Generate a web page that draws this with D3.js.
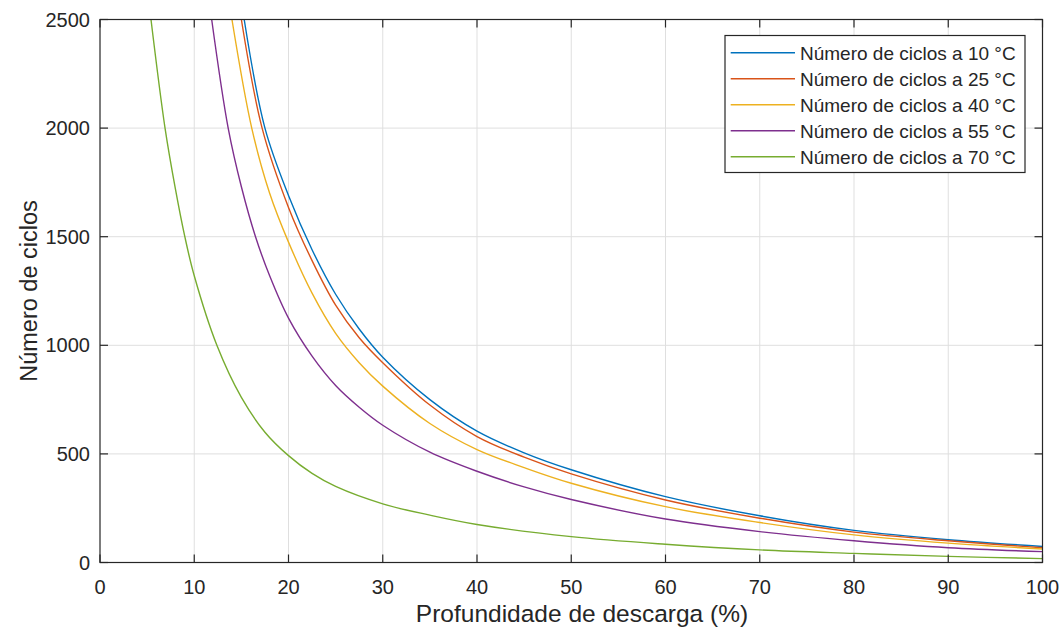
<!DOCTYPE html>
<html>
<head>
<meta charset="utf-8">
<script src="https://cdn.jsdelivr.net/npm/d3@7"></script>
<style>
  html, body { margin: 0; padding: 0; background: #fff; }
  svg { display: block; font-family: "Liberation Sans", Arial, sans-serif; }
</style>
</head>
<body>
<svg id="chart" width="1064" height="630"></svg>
<script>
// [profundidade de descarga (%), número de ciclos]
const ciclos10 = [[15.3, 2500], [17.5, 2000], [20, 1690], [22.5, 1440], [25, 1235], [27.5, 1075], [30, 945],
  [35, 750], [40, 605], [45, 505], [50, 427], [60, 303], [70, 215], [80, 148], [90, 105], [100, 74]];
const ciclos25 = [[15.0, 2500], [17.2, 2000], [20, 1635], [22.5, 1390], [25, 1185], [27.5, 1035], [30, 920],
  [35, 725], [40, 580], [45, 485], [50, 408], [60, 288], [70, 204], [80, 140], [90, 100], [100, 68]];
const ciclos40 = [[14.0, 2500], [16.1, 2000], [18, 1700], [20, 1475], [22.5, 1240], [25, 1055], [27.5, 920],
  [30, 812], [35, 640], [40, 520], [45, 437], [50, 365], [60, 257], [70, 184], [80, 127], [90, 89], [100, 62]];
const ciclos55 = [[11.85, 2500], [13.6, 2000], [15, 1730], [16.5, 1500], [18, 1320], [20, 1125], [22.5, 950],
  [25, 815], [27.5, 715], [30, 632], [35, 508], [40, 420], [45, 348], [50, 290], [60, 200], [70, 142],
  [80, 100], [90, 68], [100, 50]];
const ciclos70 = [[5.41, 2500], [6.9, 2000], [8, 1720], [9.0, 1500], [10, 1320], [12.4, 1000], [15, 760],
  [17.5, 600], [20, 492], [22.5, 410], [25, 350], [30, 270], [35, 218], [40, 175], [50, 119], [60, 84],
  [70, 58], [80, 42], [90, 28], [100, 18]];

const seriesNames = ["Número de ciclos a 10 °C", "Número de ciclos a 25 °C", "Número de ciclos a 40 °C",
  "Número de ciclos a 55 °C", "Número de ciclos a 70 °C"];
const seriesColors = ["#0072BD", "#D95319", "#EDB120", "#7E2F8E", "#77AC30"];
const xTicks = [0, 10, 20, 30, 40, 50, 60, 70, 80, 90, 100];
const yTicks = [0, 500, 1000, 1500, 2000, 2500];

const allSeries = [ciclos10, ciclos25, ciclos40, ciclos55, ciclos70];

const svg = d3.select("#chart");
const plotLeft = 100, plotRight = 1042.5, plotTop = 19.5, plotBottom = 562.5;
const axisColor = "#262626";
const tickLen = 8;

const x = d3.scaleLinear().domain([0, 100]).range([plotLeft, plotRight]);
const y = d3.scaleLinear().domain([0, 2500]).range([plotBottom, plotTop]);

// grid
const grid = svg.append("g").attr("stroke", "#dfdfdf").attr("stroke-width", 1);
grid.selectAll("line.gx").data(xTicks.slice(1, -1)).enter().append("line")
    .attr("x1", d => x(d)).attr("x2", d => x(d)).attr("y1", plotTop).attr("y2", plotBottom);
grid.selectAll("line.gy").data(yTicks.slice(1, -1)).enter().append("line")
    .attr("x1", plotLeft).attr("x2", plotRight).attr("y1", d => y(d)).attr("y2", d => y(d));

// curves, clipped to the axes box
svg.append("clipPath").attr("id", "plotClip").append("rect")
    .attr("x", plotLeft).attr("y", plotTop)
    .attr("width", plotRight - plotLeft).attr("height", plotBottom - plotTop);

const line = d3.line()
    .x(d => x(d[0]))
    .y(d => y(d[1]))
    .curve(d3.curveCatmullRom.alpha(0.5));

svg.append("g").attr("clip-path", "url(#plotClip)")
    .selectAll("path").data(allSeries).enter().append("path")
    .attr("d", line)
    .attr("fill", "none")
    .attr("stroke", (d, i) => seriesColors[i])
    .attr("stroke-width", 1.4);

// axes box with inward ticks on all four sides
const box = svg.append("g").attr("stroke", axisColor).attr("stroke-width", 1.2);
box.append("rect").attr("x", plotLeft).attr("y", plotTop)
    .attr("width", plotRight - plotLeft).attr("height", plotBottom - plotTop).attr("fill", "none");
box.selectAll("line.tb").data(xTicks).enter().append("line")
    .attr("x1", d => x(d)).attr("x2", d => x(d)).attr("y1", plotBottom).attr("y2", plotBottom - tickLen);
box.selectAll("line.tt").data(xTicks).enter().append("line")
    .attr("x1", d => x(d)).attr("x2", d => x(d)).attr("y1", plotTop).attr("y2", plotTop + tickLen);
box.selectAll("line.tl").data(yTicks).enter().append("line")
    .attr("x1", plotLeft).attr("x2", plotLeft + tickLen).attr("y1", d => y(d)).attr("y2", d => y(d));
box.selectAll("line.tr").data(yTicks).enter().append("line")
    .attr("x1", plotRight).attr("x2", plotRight - tickLen).attr("y1", d => y(d)).attr("y2", d => y(d));

// tick labels
svg.append("g").selectAll("text").data(xTicks).enter().append("text")
    .attr("x", d => x(d)).attr("y", 594)
    .attr("text-anchor", "middle")
    .attr("font-size", 20).attr("fill", axisColor)
    .text(d => d);
svg.append("g").selectAll("text").data(yTicks).enter().append("text")
    .attr("x", 90).attr("y", d => y(d) + 7)
    .attr("text-anchor", "end")
    .attr("font-size", 20).attr("fill", axisColor)
    .text(d => d);

// axis titles
svg.append("text")
    .attr("x", 582).attr("y", 622)
    .attr("text-anchor", "middle")
    .attr("font-size", 24.5).attr("fill", axisColor)
    .text("Profundidade de descarga (%)");
svg.append("text")
    .attr("transform", `translate(37,${(plotTop + plotBottom) / 2}) rotate(-90)`)
    .attr("text-anchor", "middle")
    .attr("font-size", 23.5).attr("fill", axisColor)
    .text("Número de ciclos");

// legend
const legend = svg.append("g").attr("transform", "translate(725,35.5)");
legend.append("rect")
    .attr("width", 300).attr("height", 137)
    .attr("fill", "#fff").attr("stroke", axisColor).attr("stroke-width", 1.2);
const rows = legend.selectAll("g.row").data(seriesNames).enter().append("g")
    .attr("transform", (d, i) => `translate(0,${17.2 + i * 26})`);
rows.append("line")
    .attr("x1", 5.7).attr("x2", 70)
    .attr("stroke", (d, i) => seriesColors[i]).attr("stroke-width", 1.4);
rows.append("text")
    .attr("x", 75).attr("y", 6.8)
    .attr("font-size", 19).attr("fill", axisColor)
    .text(d => d);
</script>
</body>
</html>
